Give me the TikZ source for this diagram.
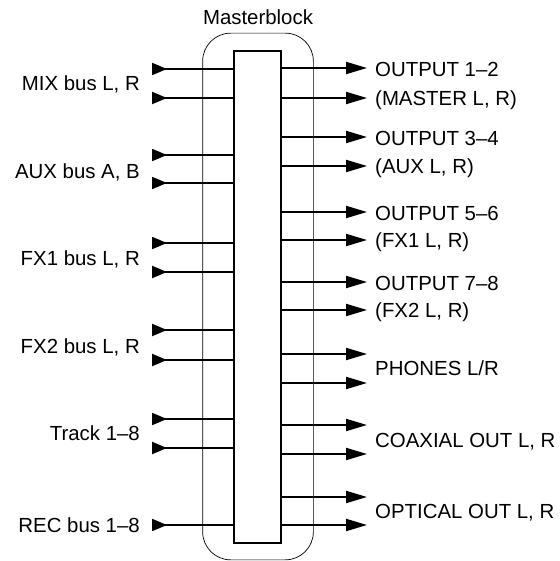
\documentclass[tikz,border=0pt]{standalone}
\usepackage{fontspec}
\setmainfont{Liberation Sans}
\usetikzlibrary{arrows.meta}
\begin{document}
\begin{tikzpicture}[x=1pt,y=-1pt,
  lbl/.style={font=\fontsize{20.4}{24}\selectfont, inner sep=0pt, text height=14.6pt, text depth=0pt},
  lleft/.style={lbl, anchor=east},
  lright/.style={lbl, anchor=west},
  inarrow/.style={line width=2pt, {Triangle[reversed,length=15pt,width=12pt]}-},
  outarrow/.style={line width=2pt, -{Triangle[length=21pt,width=12pt]}},
  blockbox/.style={draw, line width=2pt, minimum width=47pt, minimum height=492pt, inner sep=0pt},
  outerbox/.style={line width=0.7pt, rounded corners=28pt, minimum width=110pt, minimum height=526pt, inner sep=0pt}]
\useasboundingbox (0,0) rectangle (559,561);

\node[outerbox] (outer) at (258,296.5) {};
\node[lbl, anchor=center] (title) at (258,17) {Masterblock};

% inputs
\foreach \n/\y in {i1/69,i2/98,i3/155,i4/183,i5/243,i6/272,i7/330,i8/360,i9/419,i10/448,i11/525}{
  \coordinate (\n) at (152,\y);
}
% outputs
\foreach \n/\y in {o1/68,o2/98,o3/137,o4/166,o5/212,o6/240,o7/282,o8/310,o9/354,o10/383,o11/425,o12/454,o13/497,o14/525}{
  \coordinate (\n) at (367,\y);
}

\node[blockbox, fill=white] (mb) at (257.5,297) {};

\foreach \n in {i1,i2,i3,i4,i5,i6,i7,i8,i9,i10,i11}{
  \draw[inarrow] (\n) -- (\n -| mb.west);
}
\foreach \n in {o1,o2,o3,o4,o5,o6,o7,o8,o9,o10,o11,o12,o13,o14}{
  \draw[outarrow] (\n -| mb.east) -- (\n);
}
\draw[line width=0.7pt, rounded corners=28pt] (outer.south west) rectangle (outer.north east);
\node[blockbox] (mb2) at (mb) {};

% left labels
\node[lleft] (l1) at (140,83.5) {MIX bus L, R};
\node[lleft] (l2) at (140,171) {AUX bus A, B};
\node[lleft] (l3) at (140,258) {FX1 bus L, R};
\node[lleft] (l4) at (140,346) {FX2 bus L, R};
\node[lleft] (l5) at (140,433.5) {Track 1--8};
\node[lleft] (l6) at (140,525) {REC bus 1--8};

% right labels
\node[lright] (r1) at (375,69) {OUTPUT 1--2};
\node[lright] (r2) at (375,98) {(MASTER L, R)};
\node[lright] (r3) at (375,138) {OUTPUT 3--4};
\node[lright] (r4) at (375,166) {(AUX L, R)};
\node[lright] (r5) at (375,213) {OUTPUT 5--6};
\node[lright] (r6) at (375,240) {(FX1 L, R)};
\node[lright] (r7) at (375,283) {OUTPUT 7--8};
\node[lright] (r8) at (375,310) {(FX2 L, R)};
\node[lright] (r9) at (375,368) {PHONES L/R};
\node[lright] (r10) at (375,440) {COAXIAL OUT L, R};
\node[lright] (r11) at (375,511) {OPTICAL OUT L, R};
\end{tikzpicture}
\end{document}
